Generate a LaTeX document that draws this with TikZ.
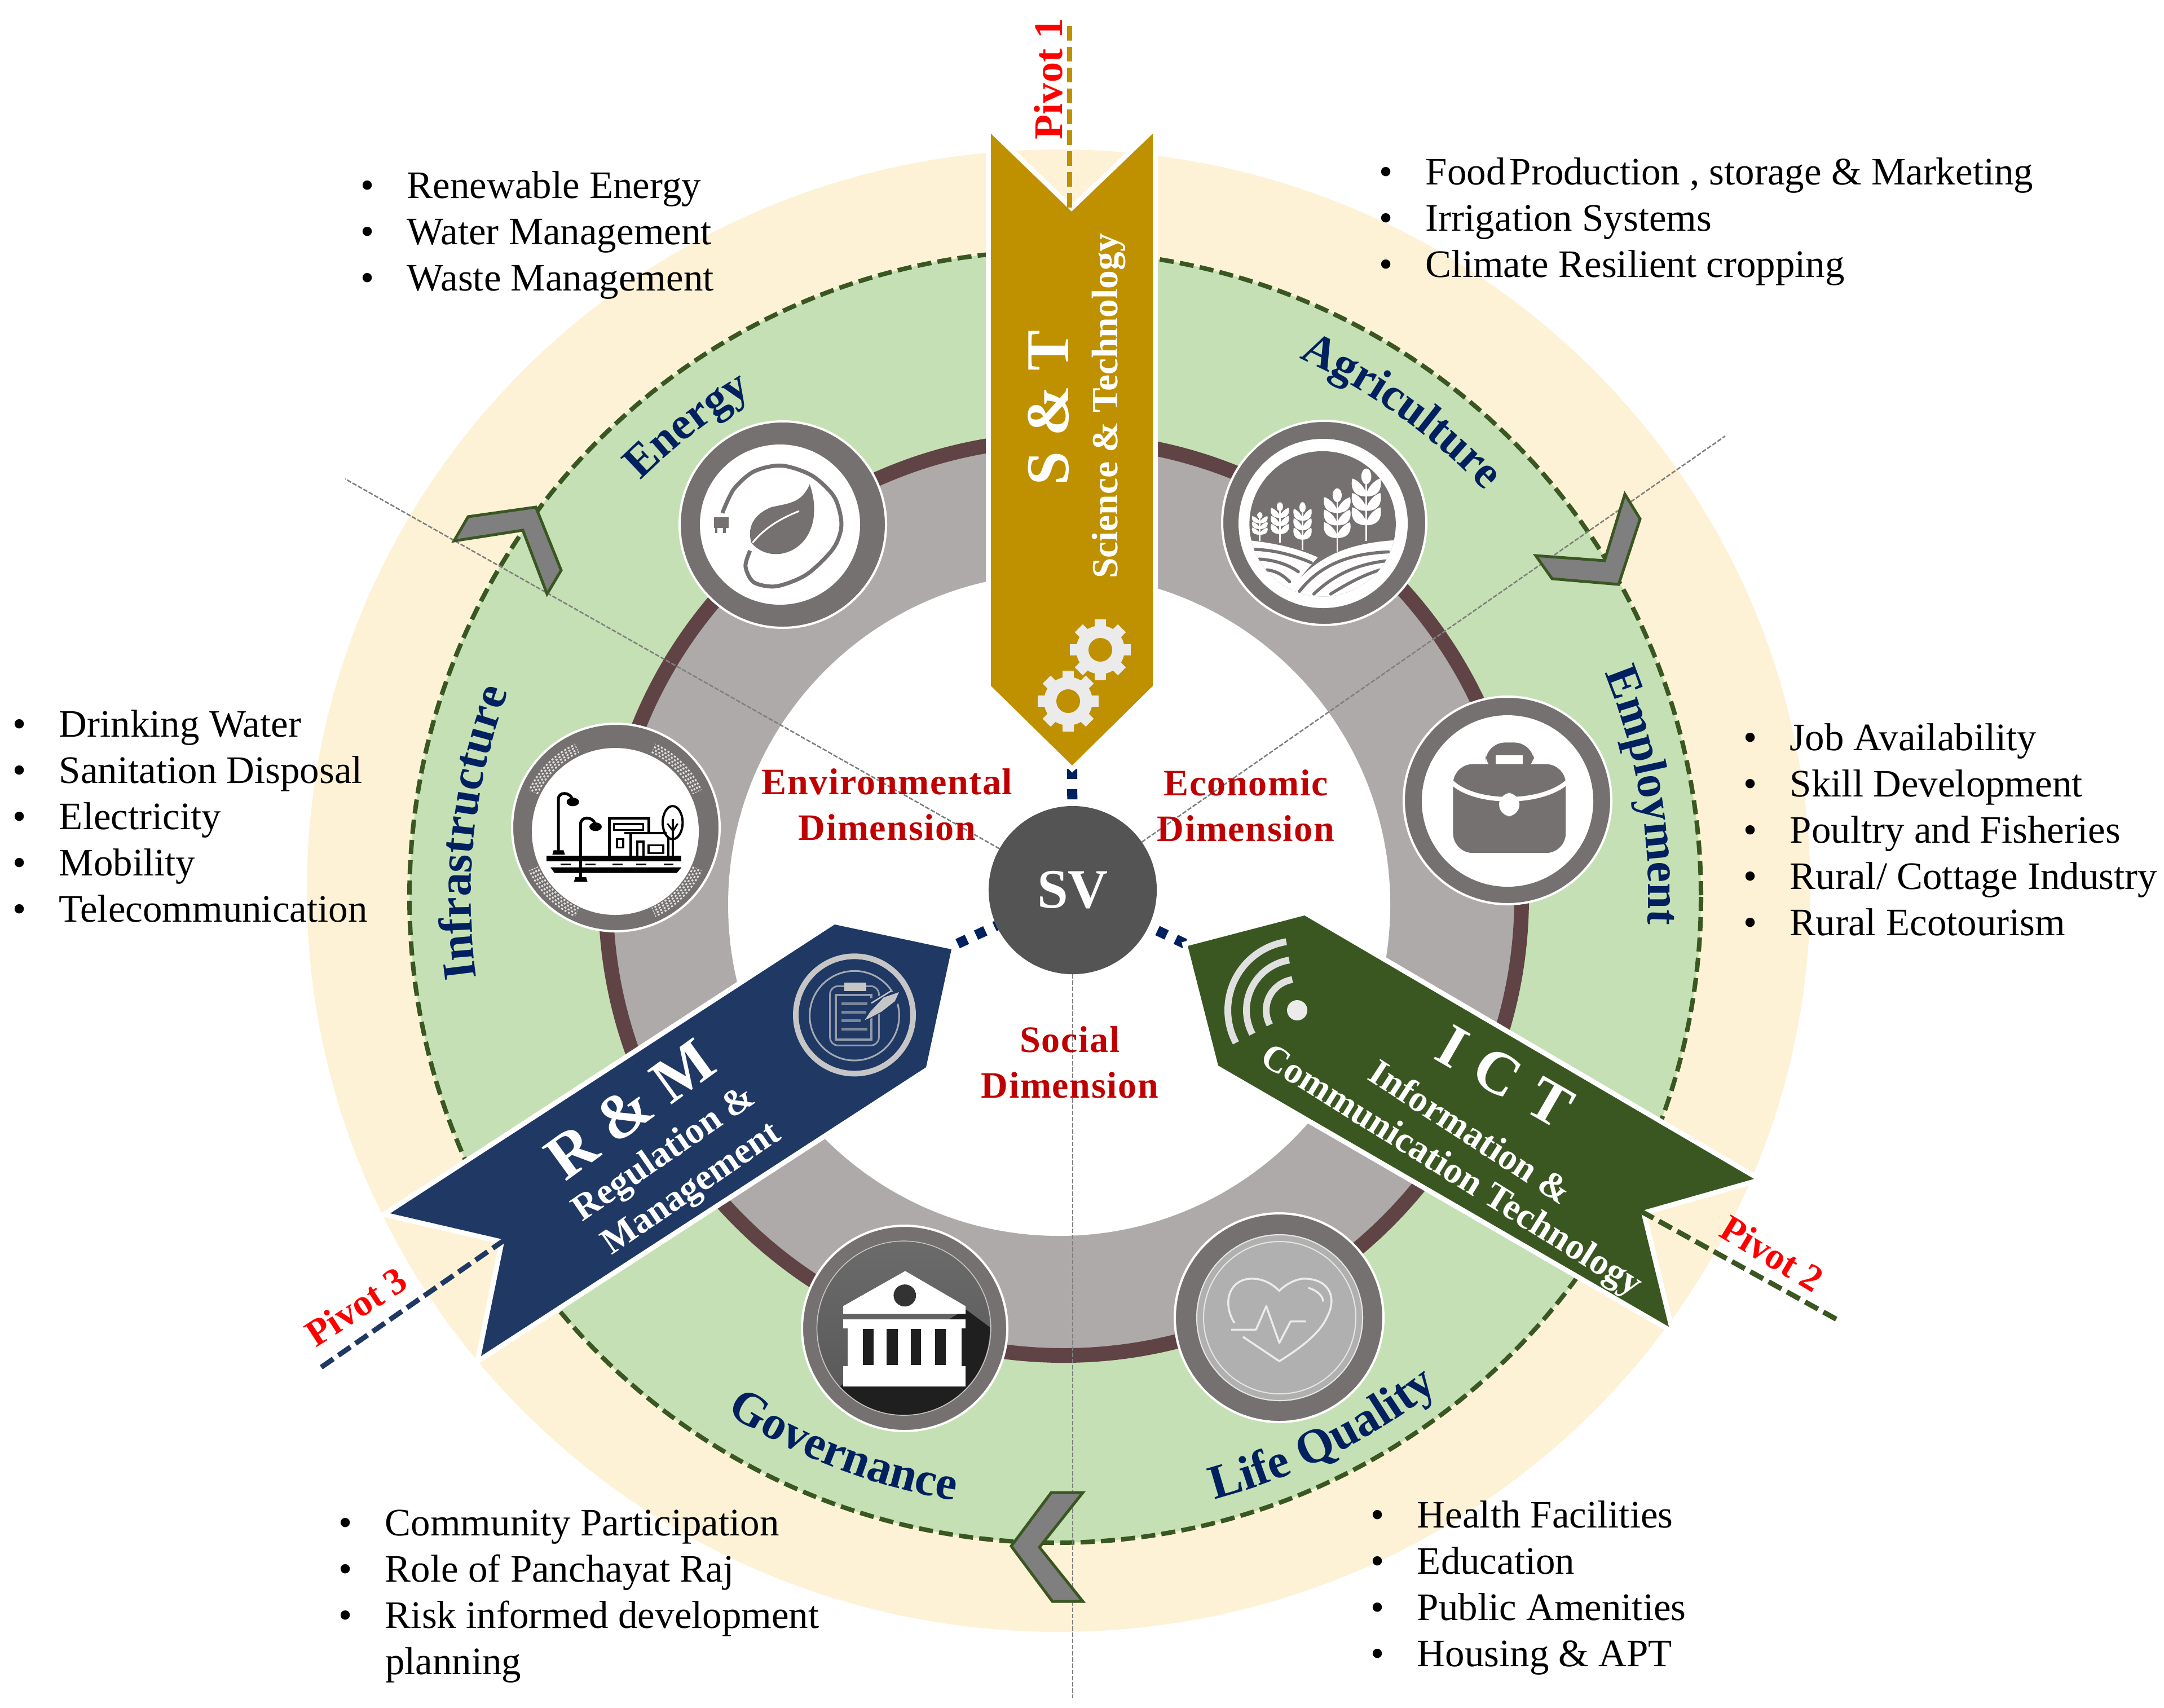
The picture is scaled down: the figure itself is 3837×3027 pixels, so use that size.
\documentclass[tikz,border=0pt]{standalone}
\usepackage{fontspec}
\setmainfont{Liberation Serif}
\newfontfamily\dimfont[LetterSpace=2.5]{Liberation Serif}
\usetikzlibrary{decorations.text}
\pgfdeclarelayer{back}\pgfdeclarelayer{mid}\pgfsetlayers{back,mid,main}
\newdimen\pxu \pxu=0.2845pt
\definecolor{beige}{HTML}{FDF2D6}
\definecolor{leaf}{HTML}{C5E0B4}
\definecolor{stone}{HTML}{AEAAAA}
\definecolor{rust}{HTML}{604345}
\definecolor{icong}{HTML}{767171}
\definecolor{gold}{HTML}{BF9000}
\definecolor{bnavy}{HTML}{1F3864}
\definecolor{forest}{HTML}{3A5722}
\definecolor{ink}{HTML}{002060}
\definecolor{darkred}{HTML}{C00000}
\definecolor{svgray}{HTML}{545454}
\definecolor{chevg}{HTML}{7F7F7F}
\tikzset{
 plain/.style={inner sep=0pt,outer sep=0pt},
 listbox/.style={plain,anchor=west,align=left,font=\fontsize{19.6}{23.3}\selectfont},
 dimlabel/.style={plain,align=center,text=darkred,font=\fontsize{18.8}{23.1}\selectfont\dimfont\bfseries},
 pivotlabel/.style={plain,text=red,font=\fontsize{19}{23}\selectfont\bfseries},
 bigtitle/.style={plain,text=white,font=\fontsize{30.7}{36}\selectfont\bfseries},
 subtitle/.style={plain,text=white,font=\fontsize{18.6}{22}\selectfont\bfseries},
 chev/.style={fill=chevg,draw=forest,line width=5\pxu,line join=miter},
 bannerhalo/.style={draw=white,line width=18\pxu,line join=miter,miter limit=20},
 iconring/.style={fill=icong,draw=white,line width=4\pxu},
 thinline/.style={draw=gray,line width=2.6\pxu,dash pattern=on 8\pxu off 3\pxu},
 dots/.style={draw=ink,line width=18\pxu,dash pattern=on 18\pxu off 18\pxu},
 pivotline/.style={line width=9\pxu,dash pattern=on 26\pxu off 11\pxu},
}
\newcommand\arclab[5]{\path[decorate,decoration={text along path,text align=center,text={|\fontsize{#1}{30}\selectfont\bfseries\color{ink}|#2}}] (1871,1590)++({#3-(#5)}:#4) arc ({#3-(#5)}:{#3+(#5)}:#4);}
\newcommand\li[1]{\makebox[23.6pt][l]{\textbullet}#1}
\newcommand\wheat[4]{%
 \pgfmathsetmacro\wh{#2-(#3)}%
 \draw[white,line width=2.6\pxu] (#1,#2)--(#1,{#3+0.1*\wh});
 \foreach \k in {0.22,0.42,0.62}{%
  \pgfmathsetmacro\wy{#2-\k*\wh}\pgfmathsetmacro\wt{0.25*\wh}%
  \fill[white] (#1,\wy) .. controls ({#1-#4},\wy) and ({#1-#4},{\wy-0.7*\wt}) .. ({#1-0.9*#4},{\wy-\wt}) .. controls ({#1-0.5*#4},{\wy-0.9*\wt}) and ({#1-0.1*#4},{\wy-0.5*\wt}) .. (#1,{\wy-0.15*\wt}) .. controls ({#1+0.1*#4},{\wy-0.5*\wt}) and ({#1+0.5*#4},{\wy-0.9*\wt}) .. ({#1+0.9*#4},{\wy-\wt}) .. controls ({#1+#4},{\wy-0.7*\wt}) and ({#1+#4},\wy) .. (#1,\wy) -- cycle;
 }
 \fill[white] (#1,{#3+0.1*\wh}) ellipse [x radius={0.32*#4},y radius={0.11*\wh}];
}
\newcommand\gear[2]{%
 \foreach \a in {0,45,...,315}{\draw[white!92!black,line width=20\pxu] (#1,#2)++(\a:36)--++(\a:18);}
 \fill[white!92!black] (#1,#2) circle [radius=43];
 \fill[gold] (#1,#2) circle [radius=21];
}
\begin{document}
\begin{tikzpicture}[x=0.01cm,y=-0.01cm]
\useasboundingbox (0,0) rectangle (3837,3027);
\begin{pgfonlayer}{back}
 \fill[beige] (1877,1579) ellipse [x radius=1333,y radius=1314];
 \fill[leaf] (1871,1590) circle [radius=1145];
 \draw[forest,line width=8\pxu,dash pattern=on 25\pxu off 11\pxu] (1871,1590) circle [radius=1145];
 \draw[fill=stone,draw=rust,line width=26\pxu] (1886,1591) circle [radius=812];
 \fill[white] (1878,1604) circle [radius=587];
\end{pgfonlayer}

% named end points
\coordinate (envend) at (612,849);
\coordinate (ecoend) at (3059,773);
\coordinate (socend) at (1902,3010);
\coordinate (stdot) at (1901,1363);
\coordinate (rmdot) at (1698,1673);
\coordinate (ictdot) at (2101,1673);
\coordinate (stnotch) at (1900,375);
\coordinate (rmnotch) at (895,2198);
\coordinate (ictnotch) at (2909,2147);
\coordinate (p1end) at (1896,43);
\coordinate (p2end) at (3262,2342);
\coordinate (p3end) at (568,2425);

% banners
\path[bannerhalo,fill=white] (1757,237)--(stnotch)--(2044,237)--(2044,1216)--(1901,1357)--(1757,1216)--cycle;
\fill[gold] (1757,237)--(stnotch)--(2044,237)--(2044,1216)--(1901,1357)--(1757,1216)--cycle;
\path[bannerhalo,fill=white] (1480,1639)--(1687,1683)--(1642,1892)--(853,2404)--(rmnotch)--(692,2151)--cycle;
\fill[bnavy] (1480,1639)--(1687,1683)--(1642,1892)--(853,2404)--(rmnotch)--(692,2151)--cycle;
\path[bannerhalo,fill=white] (2313,1623)--(2106,1677)--(2160,1889)--(2959,2352)--(ictnotch)--(3110,2090)--cycle;
\fill[forest] (2313,1623)--(2106,1677)--(2160,1889)--(2959,2352)--(ictnotch)--(3110,2090)--cycle;

% chevrons
\draw[chev] (830,916)--(950,899)--(995,1011)--(970,1053)--(927,940)--(805,959)--cycle;
\draw[chev] (2881,876)--(2908,920)--(2870,1036)--(2752,1026)--(2723,985)--(2845,994)--cycle;
\draw[chev] (1793,2741)--(1864,2646)--(1920,2646)--(1843,2743)--(1920,2839)--(1866,2839)--cycle;

% centre
\node[circle,fill=svgray,minimum size=298\pxu,plain,text=white,font=\fontsize{28}{32}\selectfont\bfseries] (sv) at (1902,1578) {\raisebox{-4\pxu}{SV}};
\begin{pgfonlayer}{mid}
 \draw[thinline] (sv)--(envend);
 \draw[thinline] (sv)--(ecoend);
 \draw[thinline] (sv)--(socend);
 \draw[dots] (stdot)--(sv);
 \draw[dots] (rmdot)--(sv);
 \draw[dots] (ictdot)--(sv);
\end{pgfonlayer}

% pivots
\draw[pivotline,gold] (stnotch)++(-4,-7)--(p1end);
\draw[pivotline,forest] (ictnotch)--(p2end);
\draw[pivotline,bnavy] (rmnotch)--(p3end);
\node[pivotlabel,rotate=90,font=\fontsize{20.5}{24}\selectfont\bfseries] (piv1) at (1859,140) {Pivot 1};
\node[pivotlabel,rotate=-31] (piv2) at (3142,2222) {Pivot 2};
\node[pivotlabel,rotate=33] (piv3) at (631,2316) {Pivot 3};

% banner text
\node[bigtitle,rotate=90] (st) at (1859,723) {S \& T};
\node[subtitle,rotate=90] (stsub) at (1966,720) {Science \& Technology};
\gear{1951}{1152}
\gear{1894}{1243}
\node[bigtitle,rotate=36,font=\fontsize{32}{36}\selectfont\bfseries] (rm) at (1117,1966) {R \& M};
\node[subtitle,rotate=34.5] (rm1) at (1179,2047) {Regulation \&};
\node[subtitle,rotate=34.5] (rm2) at (1228,2110) {Management};
\node[bigtitle,rotate=-30] (ict) at (2668,1909) {I\hspace{0.3em}C\hspace{0.3em}T};
\node[subtitle,rotate=-33] (ict1) at (2608,2006) {Information \&};
\node[subtitle,rotate=-32] (ict2) at (2572,2078) {Communication Technology};

% wifi
\fill[white!92!black] (2300,1791) circle [radius=18];
\foreach \r in {55,90,123}{\draw[white!88!black,line width=12\pxu] (2300,1791)++(152:\r) arc (152:261:\r);}

% clipboard (zoom units)
\begin{scope}[shift={(1380,1660)},scale=1/3]
 \definecolor{clipg}{HTML}{C6C6C6}
 \draw[clipg,line width=10\pxu] (405,418) circle [radius=312];
 \draw[clipg!80!bnavy,line width=3\pxu] (405,422) circle [radius=238];
 \draw[clipg!70!bnavy,line width=3\pxu,rounded corners=4pt] (275,265) rectangle (535,580);
 \draw[clipg!70!bnavy,line width=4\pxu] (305,312) rectangle (495,548);
 \fill[clipg] (350,245) rectangle (468,290);
 \foreach \yy/\xe in {358/475,403/468,448/438,493/475}{\fill[clipg!55!bnavy] (335,\yy-8) rectangle (\xe,\yy+8);}
 \fill[bnavy] (450,460)--(490,330)--(660,280)--(650,350)--cycle;
 \fill[clipg] (460,445)--(490,400)--(560,325)--(642,297)--(620,345)--(550,400)--(490,432)--cycle;
 \draw[clipg,line width=2.5\pxu] (495,355)--(600,290);
\end{scope}

% energy icon
\draw[iconring] (1388,930) circle [radius=183];
\fill[white] (1383,930) circle [radius=142];
\begin{scope}[shift={(1100,650)},xscale=1/2.24,yscale=1/1.4255]
 \fill[icong] (752,297) .. controls (775,340) and (780,390) .. (740,430) .. controls (690,480) and (580,490) .. (520,445) .. controls (500,400) and (540,370) .. (600,355) .. controls (670,345) and (720,345) .. (752,297) -- cycle;
 \draw[white,line width=3\pxu] (525,445)..controls (570,410) and (630,385) .. (710,365);
 \draw[icong,line width=7\pxu] plot[smooth] coordinates {(515,465)(497,505)(530,545)(620,555)(740,525)(845,460)(878,400)(850,330)(760,275)(640,250)(530,265)(450,310)(405,370)};
 \fill[icong] (372,380) rectangle (430,408);
 \fill[icong] (376,408) rectangle (386,420);
 \fill[icong] (408,408) rectangle (418,420);
\end{scope}

% agriculture icon
\draw[iconring] (2348,927) circle [radius=181];
\fill[white] (2346,928) circle [radius=150];
\begin{scope}[shift={(2100,650)},xscale=1/1.742,yscale=1/1.568]
 \begin{scope}
  \clip (427,437) ellipse [x radius=226,y radius=202];
  \fill[icong] (190,220) rectangle (670,660);
  \fill[white] (190,482) .. controls (280,490) and (350,505) .. (412,530) -- (335,610) .. controls (410,530) and (500,490) .. (660,482) -- (670,660) -- (190,660) -- cycle;
  \draw[icong,line width=5.5\pxu,line cap=round] (218,508) .. controls (280,510) and (340,525) .. (392,545);
  \draw[icong,line width=5.5\pxu,line cap=round] (232,535) .. controls (280,538) and (320,550) .. (352,570);
  \draw[icong,line width=5.5\pxu,line cap=round] (255,565) .. controls (285,568) and (305,580) .. (325,598);
  \draw[icong,line width=5.5\pxu,line cap=round] (355,625) .. controls (420,550) and (510,520) .. (630,515);
  \draw[icong,line width=5.5\pxu,line cap=round] (400,632) .. controls (460,580) and (530,550) .. (622,540);
  \draw[icong,line width=5.5\pxu,line cap=round] (452,632) .. controls (500,605) and (550,580) .. (605,565);
 \end{scope}
 \wheat{233}{485}{405}{26}
 \wheat{295}{490}{378}{30}
 \wheat{365}{510}{378}{30}
 \wheat{472}{515}{340}{44}
 \wheat{562}{485}{285}{48}
\end{scope}

% employment icon
\draw[iconring] (2673,1419) circle [radius=184];
\fill[white] (2673,1420) circle [radius=152];
\begin{scope}[shift={(2100,650)},xscale=1/1.742,yscale=1/1.568]
 \fill[icong,rounded corners=10pt] (930,1130) -- (930,1045) -- (1080,1045) -- (1080,1130) -- cycle;
 \fill[white] (962,1080) rectangle (1045,1108);
 \fill[icong,rounded corners=10pt] (830,1105) rectangle (1178,1352);
 \draw[white,line width=8\pxu] (820,1150) .. controls (890,1220) and (1110,1220) .. (1188,1150);
 \fill[white,rounded corners=6pt] (972,1185) rectangle (1035,1250);
\end{scope}

% infrastructure icon
\draw[iconring] (1092,1467) circle [radius=184];
\foreach \aa in {205,295,25,115}{
 \foreach \rr/\ph in {153/0,158/3,163/0,168/3}{
  \draw[white!78!icong,line width=3\pxu,dash pattern=on 3.5\pxu off 3.5\pxu,dash phase=\ph\pxu] (1091,1472)++(\aa:\rr) arc (\aa:\aa+40:\rr);}}
\fill[white] (1091,1474) circle [radius=148];
\begin{scope}[shift={(900,1270)},scale=1/3]
 \fill (208,740) rectangle (925,770);
 \foreach \xa/\xb in {282/335,413/467,558/612,685/738,830/883}{\fill (\xa,783) rectangle (\xb,792);}
 \fill (228,803)--(925,803)--(900,833)--(250,833)--cycle;
 \draw[line width=5\pxu] (270,720)--(270,440) .. controls (270,400) and (330,400) .. (345,440);
 \fill (347,455) ellipse [x radius=33,y radius=23];
 \fill (238,735)--(245,712)--(298,712)--(305,735)--cycle;
 \draw[line width=5\pxu] (388,860)--(388,575) .. controls (388,530) and (450,530) .. (465,570);
 \fill (468,587) ellipse [x radius=33,y radius=23];
 \fill (353,880)--(360,855)--(418,855)--(425,880)--cycle;
 \draw[line width=5\pxu] (541,745)--(541,541)--(752,541)--(752,622);
 \draw[line width=3.5\pxu] (565,573) rectangle (722,605);
 \draw[line width=3.5\pxu] (582,652) rectangle (615,697);
 \draw[line width=4\pxu] (620,622)--(845,622);
 \draw[line width=5\pxu] (655,622)--(655,745);
 \draw[line width=4\pxu] (690,745)--(690,665)--(722,665)--(722,745);
 \draw[line width=3.5\pxu] (750,685) rectangle (828,728);
 \draw[line width=4\pxu] (855,640)--(855,745);
 \draw[line width=4\pxu] (880,545)--(880,745);
 \draw[line width=3\pxu] (850,570)--(880,610)--(905,570);
 \draw[line width=4\pxu] (878,565) ellipse [x radius=53,y radius=88];
\end{scope}

% governance icon
\draw[iconring] (1604,2355) circle [radius=182];
\begin{scope}[shift={(1300,2050)},xscale=1/1.206,yscale=1/1.845]
 \draw[white!60!icong,line width=1.5\pxu] (365,562) ellipse [x radius=186,y radius=285];
 \begin{scope}
  \clip (365,562) ellipse [x radius=184,y radius=283];
  \shade[top color=black!58,bottom color=black!66] (170,270) rectangle (560,850);
  \fill[black!88] (235,745)--(497,500)--(620,640)--(620,900)--(100,900)--cycle;
 \end{scope}
 \fill[white] (235,490)--(368,375)--(497,490)--(497,515)--(235,515)--cycle;
 \fill[black!80] (367,455) ellipse [x radius=24,y radius=36];
 \fill[white] (235,533) rectangle (497,562);
 \fill[white] (245,562) rectangle (488,686);
 \foreach \s/\e in {277/300,328/352,380/402,432/455}{\fill[black!88] (\s,565) rectangle (\e,683);}
 \fill[white] (235,686) rectangle (497,752);
\end{scope}

% life quality icon
\draw[iconring] (2268,2336) circle [radius=185];
\fill[white!69!black] (2269,2336) circle [radius=148];
\draw[white!90!black,line width=2\pxu] (2269,2336) circle [radius=147];
\draw[white!90!black,line width=2\pxu] (2269,2336) circle [radius=135];
\begin{scope}[shift={(1300,2050)},xscale=1/1.206,yscale=1/1.845]
 \draw[white!92!black,line width=3.5\pxu,line join=round] (1072,545) .. controls (1045,480) and (1060,400) .. (1110,400) .. controls (1135,400) and (1155,420) .. (1168,440) .. controls (1180,420) and (1205,398) .. (1225,400) .. controls (1280,405) and (1290,470) .. (1270,525) .. controls (1255,580) and (1210,630) .. (1168,670) -- (1090,590);
 \draw[white!92!black,line width=3.5\pxu,line join=round] (1065,567)--(1118,567)--(1140,490)--(1168,610)--(1192,540)--(1225,540);
 \draw[white!92!black,line width=3.5\pxu] (1230,430)..controls (1250,440) and (1260,455) .. (1262,475);
\end{scope}

% curved labels
\arclab{23}{Energy}{232}{1042}{18}
\arclab{23.2}{Agriculture}{-54.5}{1048}{18}
\arclab{23.6}{Employment}{-9.75}{1052}{18}
\arclab{23.8}{Infrastructure}{186.3}{1036}{18}
\arclab{24}{Governance}{111}{1085}{-18}
\arclab{24.4}{Life Quality}{63.65}{1105}{-18}

% dimension labels
\node[dimlabel] (envdim) at (1573,1426) {Environmental\\Dimension};
\node[dimlabel] (ecodim) at (2209,1428) {Economic\\Dimension};
\node[dimlabel] (socdim) at (1897,1883) {Social\\Dimension};

% lists
\node[listbox] (l1) at (639,417) {\li{Renewable Energy}\\\li{Water Management}\\\li{Waste Management}};
\node[listbox] (l2) at (2445,393) {\li{Food\kern2pt Production , storage \& Marketing}\\\li{Irrigation Systems}\\\li{Climate Resilient cropping}};
\node[listbox] (l3) at (22,1447) {\li{Drinking Water}\\\li{Sanitation Disposal}\\\li{Electricity}\\\li{Mobility}\\\li{Telecommunication}};
\node[listbox] (l4) at (3091,1471) {\li{Job Availability}\\\li{Skill Development}\\\li{Poultry and Fisheries}\\\li{Rural/ Cottage Industry}\\\li{Rural Ecotourism}};
\node[listbox] (l5) at (600,2830) {\li{Community Participation}\\\li{Role of Panchayat Raj}\\\li{Risk informed development}\\\hspace*{23.6pt}planning};
\node[listbox] (l6) at (2430,2815) {\li{Health Facilities}\\\li{Education}\\\li{Public Amenities}\\\li{Housing \& APT}};
\end{tikzpicture}
\end{document}
